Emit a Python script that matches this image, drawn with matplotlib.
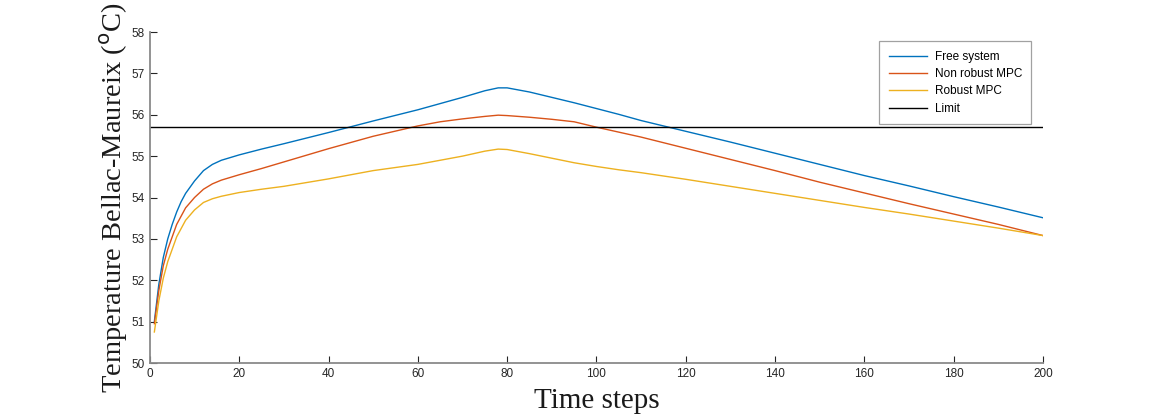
import matplotlib.pyplot as plt

STEPS = [1, 2, 3, 4, 5, 6, 7, 8, 10, 12, 14, 16, 20, 25, 30, 40, 50, 60, 65, 70,
         75, 78, 80, 85, 90, 95, 100, 105, 110, 120, 130, 140, 150, 160, 170,
         180, 190, 200]

FREE_SYSTEM = [51.0, 51.9, 52.55, 53.0, 53.35, 53.65, 53.9, 54.1, 54.4, 54.65,
               54.8, 54.9, 55.03, 55.17, 55.3, 55.57, 55.85, 56.12, 56.27, 56.42,
               56.58, 56.65, 56.65, 56.55, 56.42, 56.29, 56.15, 56.01, 55.86, 55.6,
               55.34, 55.07, 54.8, 54.53, 54.28, 54.02, 53.77, 53.51]

NON_ROBUST_MPC = [50.95, 51.75, 52.35, 52.75, 53.05, 53.35, 53.55, 53.75, 54.0,
                  54.2, 54.33, 54.42, 54.55, 54.7, 54.86, 55.18, 55.48, 55.73,
                  55.83, 55.9, 55.96, 55.99, 55.98, 55.94, 55.89, 55.83, 55.7,
                  55.58, 55.46, 55.19, 54.92, 54.65, 54.37, 54.11, 53.85, 53.6,
                  53.35, 53.08]

ROBUST_MPC = [50.75, 51.5, 52.05, 52.45, 52.75, 53.05, 53.25, 53.45, 53.7, 53.88,
              53.97, 54.03, 54.12, 54.2, 54.27, 54.45, 54.65, 54.8, 54.9, 55.0,
              55.12, 55.17, 55.16, 55.06, 54.95, 54.84, 54.75, 54.67, 54.6, 54.44,
              54.27, 54.1, 53.93, 53.76, 53.6, 53.43, 53.26, 53.08]

LIMIT = 55.7

X_TICKS = list(range(0, 201, 20))
Y_TICKS = list(range(50, 59))

fig = plt.figure(figsize=(11.53, 4.2), dpi=100, facecolor="white")
ax = fig.add_axes([0.130, 0.1357, 0.7746, 0.7881])

ax.plot(STEPS, FREE_SYSTEM, color="#0072BD", linewidth=1.0, label="Free system")
ax.plot(STEPS, NON_ROBUST_MPC, color="#D95319", linewidth=1.0, label="Non robust MPC")
ax.plot(STEPS, ROBUST_MPC, color="#EDB120", linewidth=1.0, label="Robust MPC")
ax.axhline(LIMIT, color="black", linewidth=1.0, label="Limit")

ax.set_xlim(0, 200)
ax.set_ylim(50, 58)
ax.set_xticks(X_TICKS)
ax.set_yticks(Y_TICKS)

for side in ("top", "right"):
    ax.spines[side].set_visible(False)
for side in ("left", "bottom"):
    ax.spines[side].set_color("#8a8a8a")
    ax.spines[side].set_linewidth(1.3)
ax.tick_params(direction="in", length=5, width=0.8, color="#262626",
               labelsize=8.5, labelcolor="#262626")
for lbl in ax.get_xticklabels() + ax.get_yticklabels():
    lbl.set_family("Liberation Sans")

ax.set_xlabel("Time steps", family="Liberation Serif", fontsize=21, color="#1a1a1a", labelpad=6)
ax.set_ylabel("Temperature Bellac-Maureix ($^{\\mathrm{o}}$C)", family="Liberation Serif",
              fontsize=20.5, color="#1a1a1a", labelpad=1)

leg = ax.legend(loc="upper right", bbox_to_anchor=(0.987, 0.972), borderaxespad=0,
                prop={"family": "Liberation Sans", "size": 8.5}, fancybox=False,
                handlelength=3.3, labelspacing=0.45, borderpad=0.8, handletextpad=0.6)
leg.get_frame().set_edgecolor("#8a8a8a")
leg.get_frame().set_linewidth(0.9)

fig.savefig("out.png", dpi=100, facecolor="white")
plt.close(fig)
